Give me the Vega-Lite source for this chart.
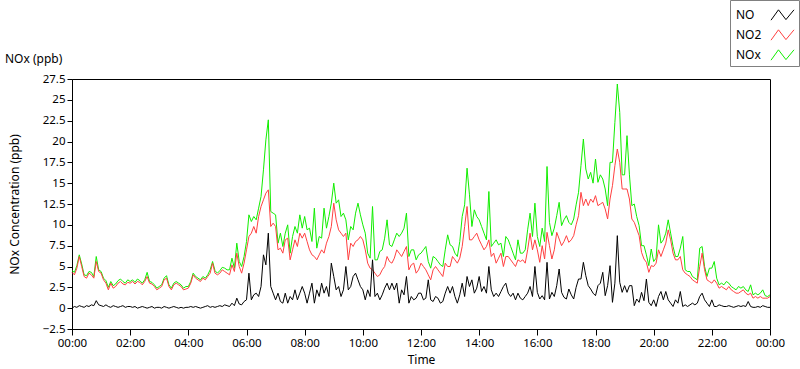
{
 "$schema": "https://vega.github.io/schema/vega-lite/v6.json",
 "width": 698, "height": 250,
 "autosize": {"type": "none"},
 "padding": {"left": 72, "top": 79, "right": 30, "bottom": 40},
 "background": "white",
 "title": {"text": "NOx (ppb)", "anchor": "start", "frame": "group", "dx": -67, "dy": 74, "offset": 8, "font": "Noto Sans", "fontSize": 12, "fontWeight": "normal", "color": "#000"},
 "config": {
  "view": {"stroke": "#000", "strokeWidth": 1},
  "font": "Noto Sans",
  "axis": {"labelFont": "Noto Sans", "labelFontSize": 11.5, "labelColor": "#000", "titleFont": "Noto Sans", "titleFontSize": 12, "titleFontWeight": "normal", "titleColor": "#000", "domainColor": "#000", "tickColor": "#000", "grid": false}
 },
 "data": {"values": [
{"t":"2024-01-01T00:00","NO":0.0,"NO2":4.3,"NOx":4.5},{"t":"2024-01-01T00:05","NO":0.2,"NO2":4.0,"NOx":4.3},{"t":"2024-01-01T00:10","NO":0.1,"NO2":4.8,"NOx":5.1},{"t":"2024-01-01T00:15","NO":0.3,"NO2":6.2,"NOx":6.4},{"t":"2024-01-01T00:20","NO":0.2,"NO2":5.0,"NOx":5.3},{"t":"2024-01-01T00:25","NO":0.1,"NO2":3.8,"NOx":4.0},{"t":"2024-01-01T00:30","NO":0.3,"NO2":3.6,"NOx":3.9},{"t":"2024-01-01T00:35","NO":0.2,"NO2":4.2,"NOx":4.4},{"t":"2024-01-01T00:40","NO":0.4,"NO2":4.0,"NOx":4.3},{"t":"2024-01-01T00:45","NO":0.3,"NO2":3.6,"NOx":3.8},{"t":"2024-01-01T00:50","NO":0.9,"NO2":5.6,"NOx":6.2},{"t":"2024-01-01T00:55","NO":0.4,"NO2":4.4,"NOx":4.6},
{"t":"2024-01-01T01:00","NO":0.3,"NO2":4.2,"NOx":4.4},{"t":"2024-01-01T01:05","NO":0.2,"NO2":3.4,"NOx":3.6},{"t":"2024-01-01T01:10","NO":0.4,"NO2":3.0,"NOx":3.3},{"t":"2024-01-01T01:15","NO":0.2,"NO2":2.2,"NOx":2.5},{"t":"2024-01-01T01:20","NO":0.1,"NO2":3.0,"NOx":3.2},{"t":"2024-01-01T01:25","NO":0.3,"NO2":2.4,"NOx":2.7},{"t":"2024-01-01T01:30","NO":0.2,"NO2":2.6,"NOx":2.9},{"t":"2024-01-01T01:35","NO":0.1,"NO2":3.0,"NOx":3.3},{"t":"2024-01-01T01:40","NO":0.2,"NO2":3.2,"NOx":3.5},{"t":"2024-01-01T01:45","NO":0.3,"NO2":2.9,"NOx":3.2},{"t":"2024-01-01T01:50","NO":0.1,"NO2":2.8,"NOx":3.0},{"t":"2024-01-01T01:55","NO":0.2,"NO2":3.1,"NOx":3.4},
{"t":"2024-01-01T02:00","NO":0.2,"NO2":3.0,"NOx":3.2},{"t":"2024-01-01T02:05","NO":0.1,"NO2":3.2,"NOx":3.4},{"t":"2024-01-01T02:10","NO":0.2,"NO2":2.9,"NOx":3.1},{"t":"2024-01-01T02:15","NO":0.0,"NO2":3.2,"NOx":3.5},{"t":"2024-01-01T02:20","NO":0.1,"NO2":3.1,"NOx":3.3},{"t":"2024-01-01T02:25","NO":0.2,"NO2":2.8,"NOx":3.0},{"t":"2024-01-01T02:30","NO":0.1,"NO2":3.2,"NOx":3.4},{"t":"2024-01-01T02:35","NO":0.0,"NO2":3.8,"NOx":4.3},{"t":"2024-01-01T02:40","NO":0.1,"NO2":3.0,"NOx":3.2},{"t":"2024-01-01T02:45","NO":0.2,"NO2":2.9,"NOx":3.1},{"t":"2024-01-01T02:50","NO":0.0,"NO2":2.6,"NOx":2.8},{"t":"2024-01-01T02:55","NO":0.1,"NO2":2.2,"NOx":2.4},
{"t":"2024-01-01T03:00","NO":0.1,"NO2":2.4,"NOx":2.6},{"t":"2024-01-01T03:05","NO":0.0,"NO2":2.6,"NOx":2.8},{"t":"2024-01-01T03:10","NO":0.2,"NO2":3.4,"NOx":3.6},{"t":"2024-01-01T03:15","NO":0.1,"NO2":3.6,"NOx":3.9},{"t":"2024-01-01T03:20","NO":0.0,"NO2":2.6,"NOx":2.8},{"t":"2024-01-01T03:25","NO":0.1,"NO2":2.2,"NOx":2.4},{"t":"2024-01-01T03:30","NO":0.2,"NO2":2.8,"NOx":3.0},{"t":"2024-01-01T03:35","NO":0.1,"NO2":3.0,"NOx":3.2},{"t":"2024-01-01T03:40","NO":0.0,"NO2":2.8,"NOx":3.0},{"t":"2024-01-01T03:45","NO":0.1,"NO2":2.6,"NOx":2.8},{"t":"2024-01-01T03:50","NO":0.0,"NO2":2.2,"NOx":2.4},{"t":"2024-01-01T03:55","NO":0.1,"NO2":2.3,"NOx":2.6},
{"t":"2024-01-01T04:00","NO":0.1,"NO2":2.4,"NOx":2.6},{"t":"2024-01-01T04:05","NO":0.2,"NO2":3.0,"NOx":3.2},{"t":"2024-01-01T04:10","NO":0.1,"NO2":4.0,"NOx":4.2},{"t":"2024-01-01T04:15","NO":0.2,"NO2":3.6,"NOx":3.8},{"t":"2024-01-01T04:20","NO":0.1,"NO2":3.4,"NOx":3.6},{"t":"2024-01-01T04:25","NO":0.0,"NO2":3.2,"NOx":3.4},{"t":"2024-01-01T04:30","NO":0.1,"NO2":3.6,"NOx":3.8},{"t":"2024-01-01T04:35","NO":0.2,"NO2":3.4,"NOx":3.6},{"t":"2024-01-01T04:40","NO":0.3,"NO2":3.8,"NOx":4.0},{"t":"2024-01-01T04:45","NO":0.1,"NO2":4.2,"NOx":4.6},{"t":"2024-01-01T04:50","NO":0.2,"NO2":5.4,"NOx":5.6},{"t":"2024-01-01T04:55","NO":0.1,"NO2":4.2,"NOx":4.5},
{"t":"2024-01-01T05:00","NO":0.2,"NO2":4.0,"NOx":4.2},{"t":"2024-01-01T05:05","NO":0.3,"NO2":4.2,"NOx":4.5},{"t":"2024-01-01T05:10","NO":0.2,"NO2":4.6,"NOx":4.9},{"t":"2024-01-01T05:15","NO":0.4,"NO2":4.4,"NOx":4.8},{"t":"2024-01-01T05:20","NO":0.3,"NO2":4.2,"NOx":4.6},{"t":"2024-01-01T05:25","NO":0.2,"NO2":4.0,"NOx":4.6},{"t":"2024-01-01T05:30","NO":0.6,"NO2":5.2,"NOx":6.0},{"t":"2024-01-01T05:35","NO":0.3,"NO2":4.4,"NOx":4.8},{"t":"2024-01-01T05:40","NO":1.2,"NO2":6.6,"NOx":7.8},{"t":"2024-01-01T05:45","NO":0.5,"NO2":5.0,"NOx":5.6},{"t":"2024-01-01T05:50","NO":0.4,"NO2":4.2,"NOx":5.0},{"t":"2024-01-01T05:55","NO":0.8,"NO2":5.4,"NOx":6.2},
{"t":"2024-01-01T06:00","NO":1.0,"NO2":7.0,"NOx":8.0},{"t":"2024-01-01T06:05","NO":4.2,"NO2":8.6,"NOx":11.2},{"t":"2024-01-01T06:10","NO":1.0,"NO2":9.0,"NOx":10.4},{"t":"2024-01-01T06:15","NO":1.6,"NO2":9.8,"NOx":11.0},{"t":"2024-01-01T06:20","NO":1.8,"NO2":9.0,"NOx":10.6},{"t":"2024-01-01T06:25","NO":1.4,"NO2":11.0,"NOx":12.0},{"t":"2024-01-01T06:30","NO":2.6,"NO2":12.2,"NOx":13.4},{"t":"2024-01-01T06:35","NO":6.4,"NO2":13.0,"NOx":16.6},{"t":"2024-01-01T06:40","NO":5.2,"NO2":13.8,"NOx":20.2},{"t":"2024-01-01T06:45","NO":9.0,"NO2":14.2,"NOx":22.6},{"t":"2024-01-01T06:50","NO":2.6,"NO2":9.8,"NOx":11.6},{"t":"2024-01-01T06:55","NO":1.8,"NO2":10.2,"NOx":11.4},
{"t":"2024-01-01T07:00","NO":1.0,"NO2":9.8,"NOx":11.2},{"t":"2024-01-01T07:05","NO":1.8,"NO2":7.0,"NOx":7.8},{"t":"2024-01-01T07:10","NO":0.8,"NO2":7.2,"NOx":9.0},{"t":"2024-01-01T07:15","NO":0.6,"NO2":6.6,"NOx":7.4},{"t":"2024-01-01T07:20","NO":1.8,"NO2":8.2,"NOx":9.0},{"t":"2024-01-01T07:25","NO":0.6,"NO2":8.4,"NOx":10.0},{"t":"2024-01-01T07:30","NO":1.4,"NO2":5.8,"NOx":6.6},{"t":"2024-01-01T07:35","NO":1.0,"NO2":7.0,"NOx":8.6},{"t":"2024-01-01T07:40","NO":2.2,"NO2":8.2,"NOx":9.8},{"t":"2024-01-01T07:45","NO":1.0,"NO2":7.4,"NOx":9.0},{"t":"2024-01-01T07:50","NO":1.8,"NO2":9.0,"NOx":11.2},{"t":"2024-01-01T07:55","NO":2.6,"NO2":8.4,"NOx":9.6},
{"t":"2024-01-01T08:00","NO":1.8,"NO2":9.0,"NOx":11.0},{"t":"2024-01-01T08:05","NO":0.6,"NO2":8.0,"NOx":9.4},{"t":"2024-01-01T08:10","NO":1.8,"NO2":7.0,"NOx":9.6},{"t":"2024-01-01T08:15","NO":3.0,"NO2":6.4,"NOx":8.0},{"t":"2024-01-01T08:20","NO":0.6,"NO2":6.2,"NOx":12.0},{"t":"2024-01-01T08:25","NO":2.2,"NO2":5.8,"NOx":7.2},{"t":"2024-01-01T08:30","NO":1.4,"NO2":6.4,"NOx":8.6},{"t":"2024-01-01T08:35","NO":3.0,"NO2":7.0,"NOx":8.4},{"t":"2024-01-01T08:40","NO":1.8,"NO2":6.6,"NOx":12.0},{"t":"2024-01-01T08:45","NO":2.6,"NO2":7.8,"NOx":9.6},{"t":"2024-01-01T08:50","NO":1.4,"NO2":8.6,"NOx":11.0},{"t":"2024-01-01T08:55","NO":5.4,"NO2":9.8,"NOx":12.6},
{"t":"2024-01-01T09:00","NO":3.8,"NO2":12.6,"NOx":15.0},{"t":"2024-01-01T09:05","NO":2.2,"NO2":10.6,"NOx":12.6},{"t":"2024-01-01T09:10","NO":2.6,"NO2":9.4,"NOx":13.0},{"t":"2024-01-01T09:15","NO":1.4,"NO2":9.0,"NOx":11.0},{"t":"2024-01-01T09:20","NO":2.2,"NO2":8.6,"NOx":11.4},{"t":"2024-01-01T09:25","NO":5.0,"NO2":9.0,"NOx":10.6},{"t":"2024-01-01T09:30","NO":2.2,"NO2":5.8,"NOx":8.2},{"t":"2024-01-01T09:35","NO":2.6,"NO2":7.8,"NOx":9.8},{"t":"2024-01-01T09:40","NO":3.8,"NO2":7.4,"NOx":9.4},{"t":"2024-01-01T09:45","NO":4.2,"NO2":8.0,"NOx":11.4},{"t":"2024-01-01T09:50","NO":3.4,"NO2":8.2,"NOx":12.6},{"t":"2024-01-01T09:55","NO":2.6,"NO2":8.6,"NOx":11.2},
{"t":"2024-01-01T10:00","NO":2.2,"NO2":8.2,"NOx":10.0},{"t":"2024-01-01T10:05","NO":1.0,"NO2":7.0,"NOx":9.0},{"t":"2024-01-01T10:10","NO":2.2,"NO2":5.4,"NOx":6.6},{"t":"2024-01-01T10:15","NO":1.4,"NO2":4.8,"NOx":6.0},{"t":"2024-01-01T10:20","NO":5.8,"NO2":4.6,"NOx":12.2},{"t":"2024-01-01T10:25","NO":1.4,"NO2":4.2,"NOx":5.8},{"t":"2024-01-01T10:30","NO":1.8,"NO2":3.8,"NOx":5.8},{"t":"2024-01-01T10:35","NO":1.0,"NO2":4.0,"NOx":6.8},{"t":"2024-01-01T10:40","NO":1.6,"NO2":4.6,"NOx":7.0},{"t":"2024-01-01T10:45","NO":2.4,"NO2":5.0,"NOx":8.4},{"t":"2024-01-01T10:50","NO":3.0,"NO2":6.2,"NOx":10.6},{"t":"2024-01-01T10:55","NO":2.2,"NO2":5.6,"NOx":7.6},
{"t":"2024-01-01T11:00","NO":3.0,"NO2":5.4,"NOx":7.4},{"t":"2024-01-01T11:05","NO":2.2,"NO2":6.0,"NOx":8.2},{"t":"2024-01-01T11:10","NO":3.0,"NO2":7.0,"NOx":9.0},{"t":"2024-01-01T11:15","NO":0.6,"NO2":6.6,"NOx":8.6},{"t":"2024-01-01T11:20","NO":2.2,"NO2":6.2,"NOx":9.0},{"t":"2024-01-01T11:25","NO":1.6,"NO2":6.8,"NOx":9.6},{"t":"2024-01-01T11:30","NO":3.8,"NO2":7.4,"NOx":11.4},{"t":"2024-01-01T11:35","NO":0.6,"NO2":4.6,"NOx":6.2},{"t":"2024-01-01T11:40","NO":1.4,"NO2":5.2,"NOx":7.0},{"t":"2024-01-01T11:45","NO":1.0,"NO2":5.4,"NOx":7.0},{"t":"2024-01-01T11:50","NO":1.2,"NO2":4.2,"NOx":5.8},{"t":"2024-01-01T11:55","NO":1.8,"NO2":4.6,"NOx":6.4},
{"t":"2024-01-01T12:00","NO":1.8,"NO2":5.4,"NOx":6.6},{"t":"2024-01-01T12:05","NO":1.0,"NO2":5.0,"NOx":7.0},{"t":"2024-01-01T12:10","NO":1.2,"NO2":4.6,"NOx":7.4},{"t":"2024-01-01T12:15","NO":3.4,"NO2":4.0,"NOx":5.6},{"t":"2024-01-01T12:20","NO":1.0,"NO2":3.4,"NOx":4.8},{"t":"2024-01-01T12:25","NO":0.8,"NO2":4.6,"NOx":6.2},{"t":"2024-01-01T12:30","NO":1.4,"NO2":5.0,"NOx":6.0},{"t":"2024-01-01T12:35","NO":1.2,"NO2":4.6,"NOx":5.6},{"t":"2024-01-01T12:40","NO":0.6,"NO2":4.2,"NOx":5.2},{"t":"2024-01-01T12:45","NO":0.8,"NO2":3.8,"NOx":5.0},{"t":"2024-01-01T12:50","NO":1.8,"NO2":5.4,"NOx":7.0},{"t":"2024-01-01T12:55","NO":2.6,"NO2":5.0,"NOx":8.8},
{"t":"2024-01-01T13:00","NO":1.8,"NO2":5.0,"NOx":7.6},{"t":"2024-01-01T13:05","NO":2.6,"NO2":6.2,"NOx":7.4},{"t":"2024-01-01T13:10","NO":1.4,"NO2":5.8,"NOx":6.6},{"t":"2024-01-01T13:15","NO":0.6,"NO2":5.4,"NOx":6.2},{"t":"2024-01-01T13:20","NO":1.6,"NO2":6.0,"NOx":8.0},{"t":"2024-01-01T13:25","NO":3.0,"NO2":7.4,"NOx":11.0},{"t":"2024-01-01T13:30","NO":1.4,"NO2":9.8,"NOx":12.4},{"t":"2024-01-01T13:35","NO":3.8,"NO2":12.2,"NOx":16.8},{"t":"2024-01-01T13:40","NO":2.6,"NO2":8.2,"NOx":13.6},{"t":"2024-01-01T13:45","NO":3.4,"NO2":8.2,"NOx":9.8},{"t":"2024-01-01T13:50","NO":1.8,"NO2":8.6,"NOx":11.8},{"t":"2024-01-01T13:55","NO":2.4,"NO2":9.0,"NOx":11.0},
{"t":"2024-01-01T14:00","NO":3.8,"NO2":8.2,"NOx":10.6},{"t":"2024-01-01T14:05","NO":2.0,"NO2":7.6,"NOx":9.8},{"t":"2024-01-01T14:10","NO":2.6,"NO2":7.0,"NOx":9.0},{"t":"2024-01-01T14:15","NO":1.8,"NO2":7.4,"NOx":8.2},{"t":"2024-01-01T14:20","NO":5.0,"NO2":8.2,"NOx":14.0},{"t":"2024-01-01T14:25","NO":2.2,"NO2":6.2,"NOx":7.4},{"t":"2024-01-01T14:30","NO":1.4,"NO2":6.6,"NOx":7.8},{"t":"2024-01-01T14:35","NO":1.8,"NO2":5.4,"NOx":8.2},{"t":"2024-01-01T14:40","NO":1.4,"NO2":6.0,"NOx":7.6},{"t":"2024-01-01T14:45","NO":2.0,"NO2":6.6,"NOx":7.8},{"t":"2024-01-01T14:50","NO":2.6,"NO2":5.0,"NOx":6.2},{"t":"2024-01-01T14:55","NO":3.0,"NO2":6.2,"NOx":8.6},
{"t":"2024-01-01T15:00","NO":1.8,"NO2":6.2,"NOx":8.2},{"t":"2024-01-01T15:05","NO":1.4,"NO2":5.8,"NOx":7.4},{"t":"2024-01-01T15:10","NO":1.8,"NO2":5.4,"NOx":6.6},{"t":"2024-01-01T15:15","NO":1.0,"NO2":5.0,"NOx":5.8},{"t":"2024-01-01T15:20","NO":1.8,"NO2":5.8,"NOx":8.2},{"t":"2024-01-01T15:25","NO":1.2,"NO2":5.6,"NOx":6.6},{"t":"2024-01-01T15:30","NO":1.0,"NO2":5.8,"NOx":6.6},{"t":"2024-01-01T15:35","NO":1.4,"NO2":5.4,"NOx":7.0},{"t":"2024-01-01T15:40","NO":1.8,"NO2":7.0,"NOx":9.4},{"t":"2024-01-01T15:45","NO":2.6,"NO2":9.0,"NOx":11.4},{"t":"2024-01-01T15:50","NO":1.4,"NO2":7.0,"NOx":8.6},{"t":"2024-01-01T15:55","NO":5.0,"NO2":8.2,"NOx":12.6},
{"t":"2024-01-01T16:00","NO":1.9,"NO2":7.0,"NOx":8.6},{"t":"2024-01-01T16:05","NO":1.1,"NO2":5.5,"NOx":7.4},{"t":"2024-01-01T16:10","NO":1.5,"NO2":7.5,"NOx":9.6},{"t":"2024-01-01T16:15","NO":1.0,"NO2":5.9,"NOx":8.0},{"t":"2024-01-01T16:20","NO":5.5,"NO2":9.1,"NOx":17.0},{"t":"2024-01-01T16:25","NO":1.1,"NO2":7.5,"NOx":10.3},{"t":"2024-01-01T16:30","NO":1.9,"NO2":5.9,"NOx":8.7},{"t":"2024-01-01T16:35","NO":1.4,"NO2":7.0,"NOx":9.6},{"t":"2024-01-01T16:40","NO":2.7,"NO2":9.1,"NOx":11.1},{"t":"2024-01-01T16:45","NO":4.7,"NO2":8.3,"NOx":12.7},{"t":"2024-01-01T16:50","NO":1.9,"NO2":7.5,"NOx":9.9},{"t":"2024-01-01T16:55","NO":1.3,"NO2":8.0,"NOx":10.6},
{"t":"2024-01-01T17:00","NO":1.1,"NO2":8.7,"NOx":11.1},{"t":"2024-01-01T17:05","NO":2.3,"NO2":7.9,"NOx":10.3},{"t":"2024-01-01T17:10","NO":1.6,"NO2":8.2,"NOx":10.0},{"t":"2024-01-01T17:15","NO":1.1,"NO2":8.7,"NOx":10.7},{"t":"2024-01-01T17:20","NO":2.5,"NO2":10.0,"NOx":12.4},{"t":"2024-01-01T17:25","NO":3.5,"NO2":11.1,"NOx":13.9},{"t":"2024-01-01T17:30","NO":3.5,"NO2":13.9,"NOx":17.1},{"t":"2024-01-01T17:35","NO":5.5,"NO2":12.3,"NOx":20.3},{"t":"2024-01-01T17:40","NO":3.9,"NO2":13.1,"NOx":16.7},{"t":"2024-01-01T17:45","NO":2.7,"NO2":12.3,"NOx":15.5},{"t":"2024-01-01T17:50","NO":2.3,"NO2":13.1,"NOx":16.3},{"t":"2024-01-01T17:55","NO":1.8,"NO2":12.7,"NOx":15.0},
{"t":"2024-01-01T18:00","NO":1.5,"NO2":13.5,"NOx":17.9},{"t":"2024-01-01T18:05","NO":2.7,"NO2":12.3,"NOx":15.1},{"t":"2024-01-01T18:10","NO":3.0,"NO2":12.5,"NOx":16.0},{"t":"2024-01-01T18:15","NO":4.3,"NO2":12.7,"NOx":15.5},{"t":"2024-01-01T18:20","NO":1.5,"NO2":11.9,"NOx":14.3},{"t":"2024-01-01T18:25","NO":2.7,"NO2":10.7,"NOx":12.3},{"t":"2024-01-01T18:30","NO":5.1,"NO2":13.1,"NOx":17.5},{"t":"2024-01-01T18:35","NO":0.7,"NO2":14.7,"NOx":17.5},{"t":"2024-01-01T18:40","NO":3.0,"NO2":17.1,"NOx":22.3},{"t":"2024-01-01T18:45","NO":8.7,"NO2":19.1,"NOx":26.9},{"t":"2024-01-01T18:50","NO":3.1,"NO2":17.5,"NOx":23.5},{"t":"2024-01-01T18:55","NO":1.9,"NO2":14.3,"NOx":16.0},
{"t":"2024-01-01T19:00","NO":2.7,"NO2":14.3,"NOx":16.0},{"t":"2024-01-01T19:05","NO":1.9,"NO2":14.3,"NOx":20.7},{"t":"2024-01-01T19:10","NO":2.7,"NO2":13.1,"NOx":16.0},{"t":"2024-01-01T19:15","NO":2.7,"NO2":10.7,"NOx":12.3},{"t":"2024-01-01T19:20","NO":0.3,"NO2":10.3,"NOx":12.5},{"t":"2024-01-01T19:25","NO":1.1,"NO2":9.5,"NOx":11.0},{"t":"2024-01-01T19:30","NO":0.7,"NO2":8.7,"NOx":9.9},{"t":"2024-01-01T19:35","NO":1.9,"NO2":6.7,"NOx":7.5},{"t":"2024-01-01T19:40","NO":0.9,"NO2":5.9,"NOx":7.5},{"t":"2024-01-01T19:45","NO":3.5,"NO2":5.5,"NOx":6.4},{"t":"2024-01-01T19:50","NO":0.7,"NO2":4.3,"NOx":5.1},{"t":"2024-01-01T19:55","NO":0.3,"NO2":5.1,"NOx":7.1},
{"t":"2024-01-01T20:00","NO":1.0,"NO2":5.0,"NOx":5.6},{"t":"2024-01-01T20:05","NO":0.2,"NO2":5.4,"NOx":6.0},{"t":"2024-01-01T20:10","NO":1.4,"NO2":7.0,"NOx":10.0},{"t":"2024-01-01T20:15","NO":2.0,"NO2":6.2,"NOx":7.8},{"t":"2024-01-01T20:20","NO":1.0,"NO2":7.0,"NOx":8.2},{"t":"2024-01-01T20:25","NO":2.0,"NO2":7.8,"NOx":9.0},{"t":"2024-01-01T20:30","NO":1.0,"NO2":9.4,"NOx":10.6},{"t":"2024-01-01T20:35","NO":0.6,"NO2":8.2,"NOx":9.0},{"t":"2024-01-01T20:40","NO":0.2,"NO2":6.6,"NOx":7.4},{"t":"2024-01-01T20:45","NO":1.0,"NO2":5.8,"NOx":6.2},{"t":"2024-01-01T20:50","NO":0.6,"NO2":5.8,"NOx":6.2},{"t":"2024-01-01T20:55","NO":2.0,"NO2":6.2,"NOx":7.2},
{"t":"2024-01-01T21:00","NO":0.2,"NO2":4.6,"NOx":8.6},{"t":"2024-01-01T21:05","NO":0.4,"NO2":4.2,"NOx":4.6},{"t":"2024-01-01T21:10","NO":0.2,"NO2":4.0,"NOx":4.4},{"t":"2024-01-01T21:15","NO":0.4,"NO2":3.8,"NOx":4.4},{"t":"2024-01-01T21:20","NO":0.6,"NO2":3.4,"NOx":3.8},{"t":"2024-01-01T21:25","NO":0.4,"NO2":3.2,"NOx":3.6},{"t":"2024-01-01T21:30","NO":0.6,"NO2":3.0,"NOx":3.4},{"t":"2024-01-01T21:35","NO":1.4,"NO2":5.0,"NOx":7.2},{"t":"2024-01-01T21:40","NO":1.8,"NO2":6.6,"NOx":7.4},{"t":"2024-01-01T21:45","NO":1.0,"NO2":4.6,"NOx":5.0},{"t":"2024-01-01T21:50","NO":0.6,"NO2":3.4,"NOx":3.8},{"t":"2024-01-01T21:55","NO":0.2,"NO2":3.2,"NOx":4.8},
{"t":"2024-01-01T22:00","NO":1.0,"NO2":3.0,"NOx":4.8},{"t":"2024-01-01T22:05","NO":0.2,"NO2":3.4,"NOx":5.6},{"t":"2024-01-01T22:10","NO":0.2,"NO2":3.0,"NOx":3.6},{"t":"2024-01-01T22:15","NO":0.4,"NO2":2.4,"NOx":2.8},{"t":"2024-01-01T22:20","NO":0.3,"NO2":2.6,"NOx":3.0},{"t":"2024-01-01T22:25","NO":0.2,"NO2":2.4,"NOx":2.8},{"t":"2024-01-01T22:30","NO":0.2,"NO2":2.2,"NOx":3.2},{"t":"2024-01-01T22:35","NO":0.3,"NO2":2.6,"NOx":3.0},{"t":"2024-01-01T22:40","NO":0.2,"NO2":2.2,"NOx":2.6},{"t":"2024-01-01T22:45","NO":0.1,"NO2":2.0,"NOx":2.4},{"t":"2024-01-01T22:50","NO":0.2,"NO2":1.8,"NOx":2.2},{"t":"2024-01-01T22:55","NO":0.3,"NO2":1.8,"NOx":2.6},
{"t":"2024-01-01T23:00","NO":0.2,"NO2":2.0,"NOx":2.4},{"t":"2024-01-01T23:05","NO":0.3,"NO2":2.2,"NOx":2.6},{"t":"2024-01-01T23:10","NO":0.2,"NO2":1.8,"NOx":2.2},{"t":"2024-01-01T23:15","NO":0.8,"NO2":1.6,"NOx":2.0},{"t":"2024-01-01T23:20","NO":0.2,"NO2":1.8,"NOx":2.8},{"t":"2024-01-01T23:25","NO":0.1,"NO2":1.2,"NOx":1.6},{"t":"2024-01-01T23:30","NO":0.1,"NO2":1.4,"NOx":1.8},{"t":"2024-01-01T23:35","NO":0.2,"NO2":1.2,"NOx":1.6},{"t":"2024-01-01T23:40","NO":0.1,"NO2":1.4,"NOx":1.8},{"t":"2024-01-01T23:45","NO":0.3,"NO2":1.2,"NOx":2.2},{"t":"2024-01-01T23:50","NO":0.2,"NO2":1.2,"NOx":1.5},{"t":"2024-01-01T23:55","NO":0.1,"NO2":1.2,"NOx":1.4},
{"t":"2024-01-02T00:00","NO":0.1,"NO2":1.4,"NOx":1.6}
 ]},
 "encoding": {
  "x": {"field": "t", "type": "temporal", "title": "Time",
   "scale": {"domain": [{"year": 2024, "month": 1, "date": 1, "hours": 0}, {"year": 2024, "month": 1, "date": 2, "hours": 0}]},
   "axis": {"values": [
     {"year":2024,"month":1,"date":1,"hours":0},{"year":2024,"month":1,"date":1,"hours":2},{"year":2024,"month":1,"date":1,"hours":4},{"year":2024,"month":1,"date":1,"hours":6},{"year":2024,"month":1,"date":1,"hours":8},{"year":2024,"month":1,"date":1,"hours":10},{"year":2024,"month":1,"date":1,"hours":12},{"year":2024,"month":1,"date":1,"hours":14},{"year":2024,"month":1,"date":1,"hours":16},{"year":2024,"month":1,"date":1,"hours":18},{"year":2024,"month":1,"date":1,"hours":20},{"year":2024,"month":1,"date":1,"hours":22},{"year":2024,"month":1,"date":2,"hours":0}],
    "format": "%H:%M", "tickSize": 6, "labelPadding": 2, "labelFlush": false, "titlePadding": 6}
  }
 },
 "layer": [
  {"mark": {"type": "line", "strokeWidth": 1},
   "encoding": {
    "y": {"field": "NOx", "type": "quantitative", "title": "NOx Concentration (ppb)",
     "scale": {"domain": [-2.5, 27.5], "nice": false, "zero": false},
     "axis": {"values": [-2.5, 0, 2.5, 5, 7.5, 10, 12.5, 15, 17.5, 20, 22.5, 25, 27.5], "format": ".1~f", "tickSize": 5, "labelPadding": 2, "titlePadding": 21}},
    "color": {"datum": "NOx", "type": "nominal",
     "scale": {"domain": ["NO", "NO2", "NOx"], "range": ["#000000", "#ff4040", "#11ee00"]},
     "legend": {"orient": "none", "legendX": 658, "legendY": -79, "title": null, "direction": "vertical", "padding": 3, "strokeColor": "#808080", "fillColor": "#ffffff", "symbolType": "M-1,0.45L-0.35,-0.45L0.3,0.4L1,-0.45", "symbolSize": 529, "symbolStrokeWidth": 1, "symbolFillColor": "transparent", "symbolOffset": 37.5, "labelOffset": -58.5, "labelFont": "Noto Sans", "labelFontSize": 12, "labelColor": "#000", "rowPadding": 0}}
   }},
  {"mark": {"type": "line", "strokeWidth": 1},
   "encoding": {
    "y": {"field": "NO2", "type": "quantitative", "title": "NOx Concentration (ppb)",
     "scale": {"domain": [-2.5, 27.5], "nice": false, "zero": false},
     "axis": {"values": [-2.5, 0, 2.5, 5, 7.5, 10, 12.5, 15, 17.5, 20, 22.5, 25, 27.5], "format": ".1~f", "tickSize": 5, "labelPadding": 2, "titlePadding": 21}},
    "color": {"datum": "NO2", "type": "nominal"}
   }},
  {"mark": {"type": "line", "strokeWidth": 1},
   "encoding": {
    "y": {"field": "NO", "type": "quantitative", "title": "NOx Concentration (ppb)",
     "scale": {"domain": [-2.5, 27.5], "nice": false, "zero": false},
     "axis": {"values": [-2.5, 0, 2.5, 5, 7.5, 10, 12.5, 15, 17.5, 20, 22.5, 25, 27.5], "format": ".1~f", "tickSize": 5, "labelPadding": 2, "titlePadding": 21}},
    "color": {"datum": "NO", "type": "nominal"}
   }}
 ]
}
